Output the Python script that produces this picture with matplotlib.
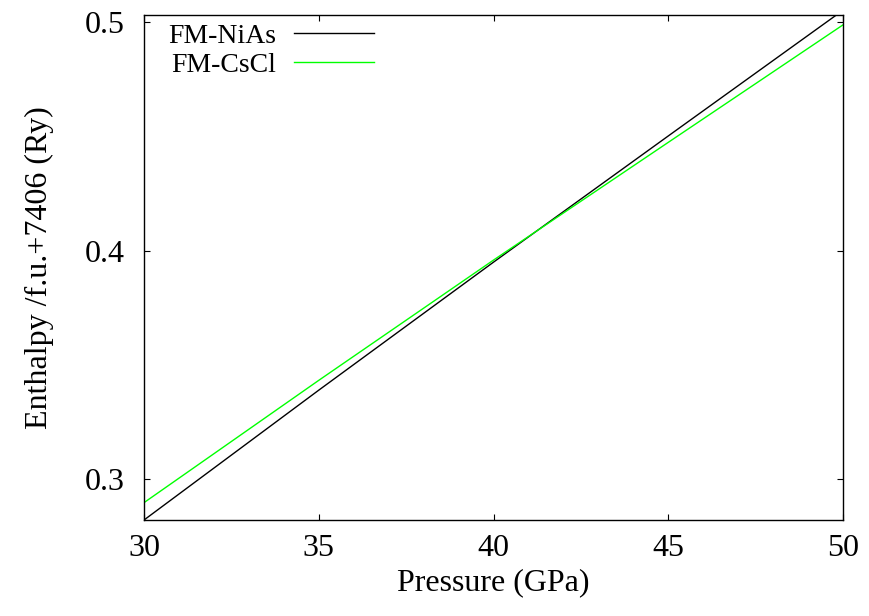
import matplotlib
matplotlib.use("Agg")
import matplotlib.pyplot as plt

# Enthalpy per formula unit (+7406 Ry) versus pressure for two FM phases
pressure = [30, 35, 40, 45, 50]
h_nias = [0.2822, 0.3390, 0.3950, 0.4502, 0.5052]
h_cscl = [0.2898, 0.3433, 0.3959, 0.4474, 0.4988]

x_ticks = [30, 35, 40, 45, 50]
y_ticks = [0.3, 0.4, 0.5]
y_tick_labels = ["0.3", "0.4", "0.5"]

plt.rcParams["font.family"] = ["Liberation Serif", "DejaVu Serif"]
plt.rcParams["mathtext.fontset"] = "stix"

fig = plt.figure(figsize=(8.69, 6.16), dpi=100)
ax = fig.add_axes([0.1657, 0.1558, 0.8044, 0.8198])

ax.plot(pressure, h_nias, color="black", lw=1.0, label="FM-NiAs")
ax.plot(pressure, h_cscl, color="#00ff00", lw=1.0, label="FM-CsCl")

ax.set_xlim(30, 50)
ax.set_ylim(0.2822, 0.5031)
ax.set_xticks(x_ticks)
ax.set_xticklabels([str(t) for t in x_ticks])
ax.set_yticks(y_ticks)
ax.set_yticklabels(y_tick_labels)

ax.tick_params(direction="in", length=4, width=0.8, labelsize=23,
               top=True, right=True)
ax.tick_params(axis="y", pad=14)
ax.tick_params(axis="x", pad=10)
for s in ax.spines.values():
    s.set_linewidth(1.0)

ax.set_xlabel("Pressure (GPa)", fontsize=23, labelpad=4)
ax.set_ylabel("Enthalpy /f.u.+7406 (Ry)", fontsize=23, labelpad=22)

ax.legend(loc="upper left", frameon=False, markerfirst=False, fontsize=20,
          handlelength=2.85, handletextpad=0.65, labelspacing=0.12,
          borderaxespad=0.0, bbox_to_anchor=(0.019, 1.005))

fig.savefig("out.png", dpi=100)
